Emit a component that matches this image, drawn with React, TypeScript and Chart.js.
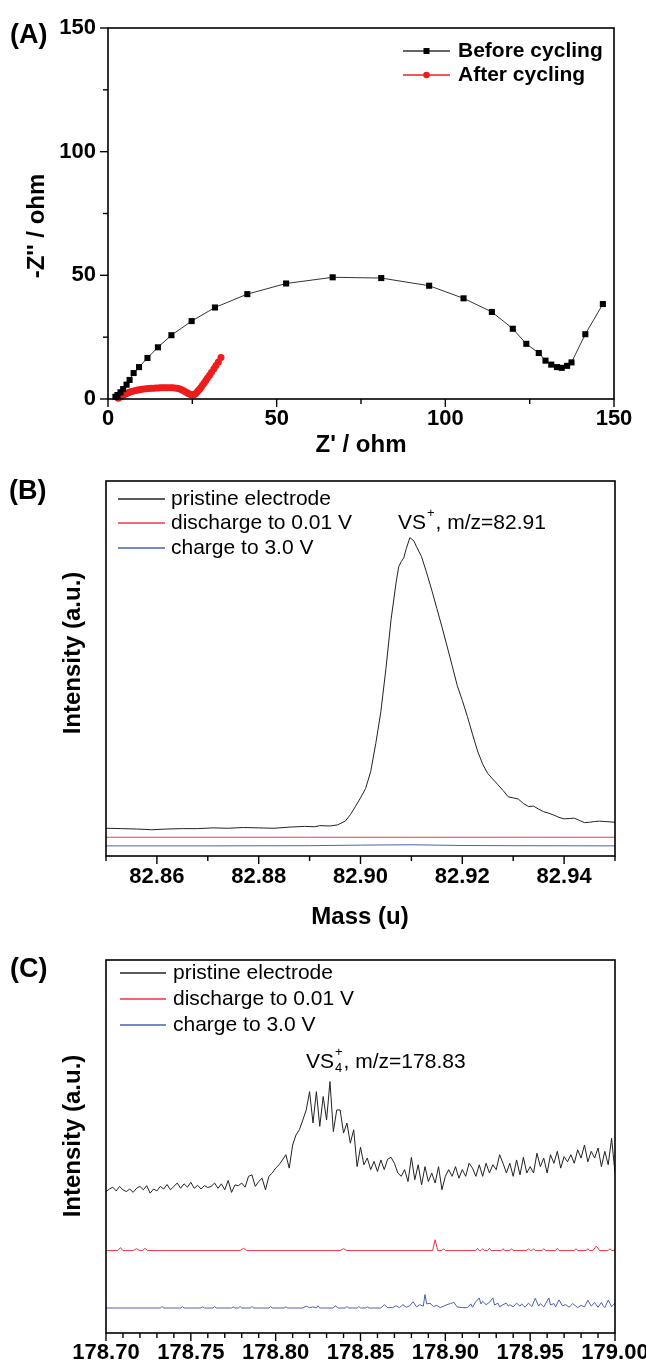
import React, { useEffect, useRef } from 'react';
import { Chart, registerables } from 'chart.js';

Chart.register(...registerables);

const FONT = "'Liberation Sans', Arial, Helvetica, sans-serif";

// ---------------- Panel A (Nyquist) ----------------
const aTickLabels = [0, 50, 100, 150];
const beforeX = [2.2, 2.8, 3.7, 4.5, 5.5, 6.4, 7.6, 9.2, 11.7, 14.8, 18.8, 24.8, 31.7, 41.3, 52.8, 66.6, 81.0, 95.2, 105.4, 113.8, 120.0, 124.0, 127.7, 129.7, 131.4, 133.1, 134.5, 136.1, 137.4, 141.5, 146.7];
const beforeY = [0.9, 1.6, 2.7, 4.0, 5.8, 7.7, 10.5, 12.9, 16.6, 20.9, 25.8, 31.5, 37.0, 42.4, 46.7, 49.2, 48.9, 45.8, 40.7, 35.2, 28.4, 22.3, 18.6, 15.5, 13.9, 12.9, 12.6, 13.4, 14.8, 26.2, 38.4];
const afterX = [3.0, 3.3, 3.7, 4.1, 4.5, 5.0, 5.5, 6.0, 6.5, 7.0, 7.6, 8.2, 8.8, 9.4, 10.0, 10.7, 11.4, 12.1, 12.8, 13.5, 14.2, 14.9, 15.6, 16.3, 17.0, 17.7, 18.4, 19.1, 19.8, 20.5, 21.1, 21.7, 22.3, 22.8, 23.3, 23.8, 24.3, 24.8, 25.2, 25.6, 26.0, 26.4, 26.8, 27.2, 27.6, 28.0, 28.5, 29.0, 29.5, 30.1, 30.7, 31.4, 32.0, 32.7, 33.5];
const afterY = [0.3, 0.6, 0.9, 1.2, 1.5, 1.9, 2.2, 2.5, 2.8, 3.0, 3.2, 3.4, 3.6, 3.7, 3.9, 4.0, 4.1, 4.2, 4.3, 4.3, 4.4, 4.4, 4.5, 4.5, 4.5, 4.5, 4.5, 4.5, 4.4, 4.3, 4.1, 3.8, 3.4, 3.0, 2.6, 2.2, 1.9, 1.7, 1.6, 1.8, 2.2, 2.8, 3.4, 4.0, 4.8, 5.6, 6.5, 7.5, 8.5, 9.6, 10.8, 12.2, 13.5, 15.0, 16.8];

// ---------------- Panel B (VS+) ----------------
const bTickLabels = ['82.86', '82.88', '82.90', '82.92', '82.94'];
const bMass = [82.850, 82.853, 82.856, 82.859, 82.862, 82.865, 82.868, 82.871, 82.874, 82.877, 82.880, 82.883, 82.886, 82.889, 82.891, 82.892, 82.894, 82.8955, 82.897, 82.898, 82.899, 82.900, 82.901, 82.902, 82.903, 82.904, 82.905, 82.906, 82.907, 82.9075, 82.908, 82.9085, 82.909, 82.9097, 82.9105, 82.911, 82.912, 82.913, 82.914, 82.915, 82.916, 82.917, 82.918, 82.919, 82.920, 82.921, 82.922, 82.923, 82.924, 82.925, 82.926, 82.927, 82.928, 82.929, 82.930, 82.931, 82.932, 82.933, 82.934, 82.935, 82.936, 82.937, 82.938, 82.939, 82.940, 82.941, 82.942, 82.943, 82.944, 82.945, 82.946, 82.947, 82.948, 82.950];
const bPristine = [7.4, 7.3, 7.2, 7.0, 7.2, 7.3, 7.3, 7.5, 7.4, 7.6, 7.5, 7.4, 7.7, 7.9, 7.8, 8.1, 8.0, 8.3, 9.3, 11.0, 13.2, 15.5, 18.0, 22.5, 30.0, 38.5, 50.0, 63.0, 73.0, 77.1, 78.5, 79.5, 82.0, 84.9, 84.0, 82.5, 79.8, 75.5, 70.9, 66.0, 61.1, 56.0, 50.8, 45.5, 41.5, 37.2, 32.5, 28.0, 24.5, 22.0, 20.5, 19.0, 17.5, 15.8, 15.5, 15.2, 14.0, 13.2, 13.3, 12.5, 11.8, 11.4, 10.9, 10.3, 9.9, 10.0, 10.1, 9.5, 8.9, 9.0, 9.2, 9.3, 9.2, 9.0];
const bDischargeMass = [82.850, 82.870, 82.890, 82.910, 82.930, 82.950];
const bDischarge = [5.0, 5.0, 5.0, 5.0, 5.0, 5.0];
const bChargeMass = [82.850, 82.870, 82.890, 82.900, 82.910, 82.915, 82.920, 82.930, 82.950];
const bCharge = [2.7, 2.7, 2.75, 2.9, 3.0, 2.9, 2.8, 2.75, 2.7];

// ---------------- Panel C (VS4+) ----------------
const cTickLabels = ['178.70', '178.75', '178.80', '178.85', '178.90', '178.95', '179.00'];
const cMass = [
  178.700, 178.702, 178.704, 178.706, 178.708, 178.710, 178.712, 178.714, 178.716, 178.718,
  178.720, 178.722, 178.724, 178.726, 178.728, 178.730, 178.732, 178.734, 178.736, 178.738,
  178.740, 178.742, 178.744, 178.746, 178.748, 178.750, 178.752, 178.754, 178.756, 178.758,
  178.760, 178.762, 178.764, 178.766, 178.768, 178.770, 178.772, 178.774, 178.776, 178.778,
  178.780, 178.782, 178.784, 178.786, 178.788, 178.790, 178.792, 178.794, 178.796, 178.798,
  178.800, 178.802, 178.804, 178.806, 178.808, 178.810, 178.812, 178.814, 178.816, 178.818,
  178.820, 178.822, 178.824, 178.826, 178.828, 178.830, 178.832, 178.834, 178.836, 178.838,
  178.840, 178.842, 178.844, 178.846, 178.848, 178.850, 178.852, 178.854, 178.856, 178.858,
  178.860, 178.862, 178.864, 178.866, 178.868, 178.870, 178.872, 178.874, 178.876, 178.878,
  178.880, 178.882, 178.884, 178.886, 178.888, 178.890, 178.892, 178.894, 178.896, 178.898,
  178.900, 178.902, 178.904, 178.906, 178.908, 178.910, 178.912, 178.914, 178.916, 178.918,
  178.920, 178.922, 178.924, 178.926, 178.928, 178.930, 178.932, 178.934, 178.936, 178.938,
  178.940, 178.942, 178.944, 178.946, 178.948, 178.950, 178.952, 178.954, 178.956, 178.958,
  178.960, 178.962, 178.964, 178.966, 178.968, 178.970, 178.972, 178.974, 178.976, 178.978,
  178.980, 178.982, 178.984, 178.986, 178.988, 178.990, 178.992, 178.994, 178.996, 178.998,
  179.000,
];
const cPristine = [
  37.9, 38.6, 39.1, 38.1, 39.3, 38.4, 37.9, 38.6, 37.7, 38.8,
  39.3, 38.4, 39.5, 37.5, 38.6, 38.1, 39.3, 38.6, 39.8, 38.4,
  39.3, 40.2, 38.8, 40.0, 39.1, 40.4, 38.8, 39.6, 38.6, 39.5,
  39.0, 39.3, 40.2, 38.8, 40.0, 38.4, 40.9, 37.7, 39.7, 39.5,
  40.2, 39.1, 42.0, 42.4, 39.3, 40.6, 41.5, 38.4, 42.0, 42.9,
  44.2, 45.1, 46.4, 47.8, 44.2, 50.4, 53.1, 54.5, 57.1, 59.8,
  64.7, 56.3, 64.7, 55.4, 63.4, 57.1, 67.4, 54.0, 59.8, 59.8,
  53.6, 56.3, 50.9, 54.5, 44.6, 49.8, 45.1, 46.9, 43.8, 46.0,
  43.3, 46.4, 43.8, 46.6, 47.1, 45.5, 42.9, 42.0, 43.8, 40.6,
  47.1, 41.1, 45.1, 39.7, 44.6, 40.6, 42.9, 40.2, 44.6, 38.4,
  42.0, 43.8, 42.0, 44.6, 41.5, 43.8, 42.0, 45.5, 44.2, 42.0,
  45.1, 42.0, 45.5, 42.9, 45.1, 43.8, 47.8, 45.5, 42.9, 45.5,
  42.0, 46.4, 42.4, 47.1, 42.9, 44.6, 42.9, 48.2, 44.6, 46.9,
  42.9, 47.8, 45.5, 48.7, 44.2, 47.3, 45.9, 47.8, 45.5, 49.1,
  46.9, 50.4, 45.9, 48.7, 46.9, 49.6, 44.6, 48.7, 45.1, 52.2,
  42.9,
];
const cDischargeMass = [178.700, 178.707, 178.7085, 178.710, 178.716, 178.718, 178.720, 178.7215, 178.723, 178.7245, 178.779, 178.781, 178.783, 178.838, 178.840, 178.842, 178.8925, 178.894, 178.8955, 178.898, 178.899, 178.900, 178.918, 178.919, 178.920, 178.921, 178.922, 178.923, 178.925, 178.926, 178.927, 178.933, 178.934, 178.935, 178.938, 178.939, 178.940, 178.948, 178.949, 178.950, 178.951, 178.952, 178.953, 178.957, 178.958, 178.959, 178.965, 178.966, 178.967, 178.976, 178.977, 178.978, 178.983, 178.984, 178.985, 178.987, 178.989, 178.991, 178.996, 178.997, 178.998, 179.000];
const cDischarge = [22.1, 22.1, 22.9, 22.1, 22.1, 22.6, 22.1, 22.1, 22.7, 22.1, 22.1, 22.7, 22.1, 22.1, 22.6, 22.1, 22.1, 25.0, 22.1, 22.1, 22.6, 22.1, 22.1, 22.7, 22.1, 22.1, 22.6, 22.1, 22.1, 22.7, 22.1, 22.1, 22.6, 22.1, 22.1, 22.6, 22.1, 22.1, 22.6, 22.1, 22.1, 22.6, 22.1, 22.1, 22.6, 22.1, 22.1, 22.7, 22.1, 22.1, 22.6, 22.1, 22.1, 22.6, 22.1, 22.1, 23.3, 22.1, 22.1, 22.6, 22.1, 22.1];
const cChargeMass = [178.700, 178.732, 178.733, 178.734, 178.744, 178.745, 178.746, 178.756, 178.757, 178.758, 178.763, 178.764, 178.765, 178.774, 178.775, 178.776, 178.778, 178.779, 178.780, 178.785, 178.786, 178.787, 178.796, 178.797, 178.798, 178.805, 178.806, 178.807, 178.816, 178.818, 178.820, 178.822, 178.824, 178.825, 178.826, 178.834, 178.835, 178.837, 178.841, 178.842, 178.843, 178.848, 178.849, 178.850, 178.853, 178.854, 178.855, 178.862, 178.864, 178.866, 178.869, 178.871, 178.873, 178.875, 178.877, 178.879, 178.881, 178.883, 178.885, 178.887, 178.888, 178.889, 178.891, 178.893, 178.895, 178.897, 178.899, 178.901, 178.903, 178.905, 178.907, 178.910, 178.913, 178.915, 178.916, 178.918, 178.920, 178.921, 178.922, 178.924, 178.926, 178.928, 178.929, 178.931, 178.932, 178.934, 178.936, 178.937, 178.938, 178.940, 178.942, 178.944, 178.945, 178.947, 178.949, 178.951, 178.953, 178.955, 178.956, 178.958, 178.961, 178.962, 178.964, 178.965, 178.967, 178.969, 178.971, 178.973, 178.975, 178.977, 178.978, 178.980, 178.982, 178.984, 178.986, 178.988, 178.990, 178.992, 178.993, 178.994, 178.996, 178.998, 179.000];
const cCharge = [6.7, 6.7, 7.1, 6.7, 6.7, 7.1, 6.7, 6.7, 7.0, 6.7, 6.7, 7.1, 6.7, 6.7, 7.0, 6.7, 6.7, 7.1, 6.7, 6.7, 7.1, 6.7, 6.7, 7.1, 6.7, 6.7, 7.0, 6.7, 6.7, 7.2, 6.8, 7.0, 6.7, 7.3, 6.7, 6.7, 7.3, 6.7, 6.7, 7.1, 6.7, 6.7, 7.1, 6.7, 6.7, 7.0, 6.7, 6.7, 7.6, 6.8, 6.8, 7.3, 6.8, 7.6, 6.9, 7.3, 8.4, 7.0, 7.6, 7.2, 10.3, 7.8, 8.0, 7.1, 7.4, 6.8, 7.2, 7.6, 7.9, 8.2, 7.0, 6.8, 6.8, 7.8, 6.9, 8.4, 9.4, 7.8, 8.5, 7.6, 8.2, 9.4, 7.5, 8.0, 7.0, 7.6, 8.0, 7.2, 7.6, 7.0, 8.0, 7.2, 7.8, 6.9, 8.0, 7.1, 9.3, 7.2, 7.9, 7.0, 9.4, 7.5, 7.9, 7.0, 8.9, 7.3, 7.6, 6.9, 7.9, 7.2, 6.8, 7.4, 7.0, 8.8, 7.2, 8.2, 6.9, 8.2, 7.3, 6.8, 8.8, 7.1, 8.0];

// ---------------- helpers ----------------
const pairs = (xs: number[], ys: number[]) => xs.map((x, i) => ({ x, y: ys[i] }));

type Seg = { t?: string; sup?: string; sub?: string };
type TextSpec =
  | { kind: 'plain'; text: string; x: number; y: number; font: string; rotate?: boolean; align?: CanvasTextAlign }
  | { kind: 'rich'; segs: Seg[]; x: number; y: number; size: number };
type LegendSpec = { x0: number; x1: number; tx: number; rows: number[]; font: string; markers?: boolean };
type DecorCfg = {
  xMajor: (v: number) => boolean;
  yMajor?: (v: number) => boolean;
  legend: LegendSpec;
  texts: TextSpec[];
};

function drawRich(ctx: CanvasRenderingContext2D, x: number, y: number, size: number, segs: Seg[]) {
  let cx = x;
  ctx.textAlign = 'left';
  ctx.textBaseline = 'middle';
  for (const s of segs) {
    if (s.t) {
      ctx.font = `${size}px ${FONT}`;
      ctx.fillText(s.t, cx, y);
      cx += ctx.measureText(s.t).width;
    } else {
      const small = Math.round(size * 0.6);
      ctx.font = `${small}px ${FONT}`;
      let w = 0;
      if (s.sup) {
        ctx.fillText(s.sup, cx + 1, y - size * 0.45);
        w = Math.max(w, ctx.measureText(s.sup).width);
      }
      if (s.sub) {
        ctx.fillText(s.sub, cx + 1, y + size * 0.32);
        w = Math.max(w, ctx.measureText(s.sub).width);
      }
      cx += w + 2;
    }
  }
}

const decor = (cfg: DecorCfg) => ({
  id: 'decor',
  afterDraw(chart: any) {
    const ctx: CanvasRenderingContext2D = chart.ctx;
    const a = chart.chartArea;
    ctx.save();
    ctx.strokeStyle = '#000';
    ctx.fillStyle = '#000';
    ctx.lineWidth = 1.6;
    ctx.strokeRect(a.left, a.top, a.right - a.left, a.bottom - a.top);
    ctx.lineWidth = 1.4;
    const xs = chart.scales.x;
    xs.ticks.forEach((t: any) => {
      const p = xs.getPixelForValue(t.value);
      const len = cfg.xMajor(t.value) ? 8 : 5;
      ctx.beginPath();
      ctx.moveTo(p, a.bottom);
      ctx.lineTo(p, a.bottom + len);
      ctx.stroke();
    });
    if (cfg.yMajor) {
      const ys = chart.scales.y;
      ys.ticks.forEach((t: any) => {
        const p = ys.getPixelForValue(t.value);
        const len = cfg.yMajor!(t.value) ? 8 : 5;
        ctx.beginPath();
        ctx.moveTo(a.left, p);
        ctx.lineTo(a.left - len, p);
        ctx.stroke();
      });
    }
    // legend
    const L = cfg.legend;
    chart.data.datasets.forEach((ds: any, i: number) => {
      const yy = L.rows[i];
      ctx.strokeStyle = ds.borderColor;
      ctx.lineWidth = 1.5;
      ctx.beginPath();
      ctx.moveTo(L.x0, yy);
      ctx.lineTo(L.x1, yy);
      ctx.stroke();
      if (L.markers) {
        const mx = (L.x0 + L.x1) / 2;
        ctx.fillStyle = ds.pointBackgroundColor;
        if (ds.pointStyle === 'rect') {
          ctx.fillRect(mx - 3, yy - 3, 6, 6);
        } else {
          ctx.beginPath();
          ctx.arc(mx, yy, 3.3, 0, Math.PI * 2);
          ctx.fill();
        }
      }
      ctx.fillStyle = '#000';
      ctx.font = L.font;
      ctx.textAlign = 'left';
      ctx.textBaseline = 'middle';
      ctx.fillText(ds.label, L.tx, yy);
    });
    // texts
    ctx.fillStyle = '#000';
    for (const t of cfg.texts) {
      if (t.kind === 'plain') {
        ctx.font = t.font;
        ctx.textAlign = t.align || 'center';
        ctx.textBaseline = 'middle';
        if (t.rotate) {
          ctx.save();
          ctx.translate(t.x, t.y);
          ctx.rotate(-Math.PI / 2);
          ctx.fillText(t.text, 0, 0);
          ctx.restore();
        } else {
          ctx.fillText(t.text, t.x, t.y);
        }
      } else {
        drawRich(ctx, t.x, t.y, t.size, t.segs);
      }
    }
    ctx.restore();
  },
});

const tickFont = { family: FONT, size: 22, weight: 'bold' as const };
const common = {
  animation: false as const,
  responsive: false,
  events: [] as any[],
  plugins: { legend: { display: false }, tooltip: { enabled: false } },
};
const noGrid = { display: false, drawTicks: false };
const fixX = (h: number) => (s: any) => {
  s.height = h;
  s.paddingLeft = 0;
  s.paddingRight = 0;
};

function buildA(): any {
  return {
    type: 'line',
    data: {
      datasets: [
        { label: 'Before cycling', data: pairs(beforeX, beforeY), borderColor: '#333', borderWidth: 1, pointStyle: 'rect', pointRadius: 4.3, pointBackgroundColor: '#000', pointBorderWidth: 0, tension: 0, clip: false },
        { label: 'After cycling', data: pairs(afterX, afterY), borderColor: '#e82020', borderWidth: 1, pointStyle: 'circle', pointRadius: 3.5, pointBackgroundColor: '#ee1c1c', pointBorderWidth: 0, tension: 0, clip: false },
      ],
    },
    options: {
      ...common,
      layout: { padding: { top: 28, right: 32, bottom: 0, left: 0 } },
      scales: {
        x: {
          type: 'linear', min: 0, max: 150, grid: noGrid, border: { display: false },
          ticks: { stepSize: 25, autoSkip: false, maxRotation: 0, padding: 7, font: tickFont, color: '#000', callback: (v: number) => (aTickLabels.includes(v) ? String(v) : '') },
          afterFit: fixX(61),
        },
        y: {
          type: 'linear', min: 0, max: 150, grid: noGrid, border: { display: false },
          ticks: { stepSize: 25, autoSkip: false, padding: 12, font: tickFont, color: '#000', callback: (v: number) => (aTickLabels.includes(v) ? String(v) : '') },
          afterFit: (s: any) => { s.width = 108; s.paddingTop = 0; s.paddingBottom = 0; },
        },
      },
    },
    plugins: [
      decor({
        xMajor: (v) => v % 50 === 0,
        yMajor: (v) => v % 50 === 0,
        legend: { x0: 403, x1: 450, tx: 458, rows: [51, 75], font: `bold 21px ${FONT}`, markers: true },
        texts: [
          { kind: 'plain', text: '(A)', x: 10, y: 36, font: `bold 27px ${FONT}`, align: 'left' },
          { kind: 'plain', text: "-Z'' / ohm", x: 37, y: 226, font: `bold 24px ${FONT}`, rotate: true },
          { kind: 'plain', text: "Z' / ohm", x: 361, y: 445, font: `bold 24px ${FONT}` },
        ],
      }),
    ],
  };
}

function buildB(): any {
  return {
    type: 'line',
    data: {
      datasets: [
        { label: 'pristine electrode', data: pairs(bMass, bPristine), borderColor: '#222', borderWidth: 1, pointRadius: 0, tension: 0 },
        { label: 'discharge to 0.01 V', data: pairs(bDischargeMass, bDischarge), borderColor: '#f03a4c', borderWidth: 1, pointRadius: 0, tension: 0 },
        { label: 'charge to 3.0 V', data: pairs(bChargeMass, bCharge), borderColor: '#4a62b0', borderWidth: 1, pointRadius: 0, tension: 0 },
      ],
    },
    options: {
      ...common,
      layout: { padding: { top: 21, right: 31, bottom: 0, left: 106 } },
      scales: {
        x: {
          type: 'linear', min: 82.85, max: 82.95, grid: noGrid, border: { display: false },
          ticks: { stepSize: 0.01, autoSkip: false, maxRotation: 0, padding: 8, font: tickFont, color: '#000', callback: (v: number) => { const s = v.toFixed(2); return bTickLabels.includes(s) ? s : ''; } },
          afterFit: fixX(79),
        },
        y: { type: 'linear', min: 0, max: 100, display: false },
      },
    },
    plugins: [
      decor({
        xMajor: (v) => Math.round(v * 100) % 2 === 0,
        legend: { x0: 118, x1: 165, tx: 171, rows: [39, 63, 88], font: `21px ${FONT}` },
        texts: [
          { kind: 'plain', text: '(B)', x: 9, y: 32, font: `bold 27px ${FONT}`, align: 'left' },
          { kind: 'plain', text: 'Intensity (a.u.)', x: 73, y: 193, font: `bold 24px ${FONT}`, rotate: true },
          { kind: 'plain', text: 'Mass (u)', x: 360, y: 457, font: `bold 24px ${FONT}` },
          { kind: 'rich', x: 398, y: 63, size: 21, segs: [{ t: 'VS' }, { sup: '+' }, { t: ', m/z=82.91' }] },
        ],
      }),
    ],
  };
}

function buildC(): any {
  return {
    type: 'line',
    data: {
      datasets: [
        { label: 'pristine electrode', data: pairs(cMass, cPristine), borderColor: '#222', borderWidth: 1, pointRadius: 0, tension: 0 },
        { label: 'discharge to 0.01 V', data: pairs(cDischargeMass, cDischarge), borderColor: '#ee3344', borderWidth: 1, pointRadius: 0, tension: 0 },
        { label: 'charge to 3.0 V', data: pairs(cChargeMass, cCharge), borderColor: '#4a62b0', borderWidth: 1, pointRadius: 0, tension: 0 },
      ],
    },
    options: {
      ...common,
      layout: { padding: { top: 25, right: 31, bottom: 0, left: 106 } },
      scales: {
        x: {
          type: 'linear', min: 178.7, max: 179.0, grid: noGrid, border: { display: false },
          ticks: { stepSize: 0.01, autoSkip: false, maxRotation: 0, padding: 7, font: tickFont, color: '#000', callback: (v: number) => { const s = v.toFixed(2); return cTickLabels.includes(s) ? s : ''; } },
          afterFit: fixX(33),
        },
        y: { type: 'linear', min: 0, max: 100, display: false },
      },
    },
    plugins: [
      decor({
        xMajor: (v) => Math.round(v * 100) % 5 === 0,
        legend: { x0: 120, x1: 166, tx: 173, rows: [38, 64, 90], font: `21px ${FONT}` },
        texts: [
          { kind: 'plain', text: '(C)', x: 10, y: 35, font: `bold 27px ${FONT}`, align: 'left' },
          { kind: 'plain', text: 'Intensity (a.u.)', x: 73, y: 201, font: `bold 24px ${FONT}`, rotate: true },
          { kind: 'rich', x: 306, y: 127, size: 21, segs: [{ t: 'VS' }, { sub: '4', sup: '+' }, { t: ', m/z=178.83' }] },
        ],
      }),
    ],
  };
}

function ChartCanvas({ top, height, build }: { top: number; height: number; build: () => any }) {
  const ref = useRef<HTMLCanvasElement | null>(null);
  useEffect(() => {
    if (!ref.current) return;
    const chart = new Chart(ref.current, build());
    return () => chart.destroy();
  }, []);
  return (
    <canvas
      ref={ref}
      width={646}
      height={height}
      style={{ position: 'absolute', left: 0, top, width: 646, height }}
    />
  );
}

export default function App() {
  return (
    <div style={{ position: 'relative', width: 646, height: 1366, background: '#fff', overflow: 'hidden' }}>
      <style>{'body{margin:0;background:#fff;}'}</style>
      <ChartCanvas top={0} height={460} build={buildA} />
      <ChartCanvas top={460} height={475} build={buildB} />
      <ChartCanvas top={935} height={431} build={buildC} />
    </div>
  );
}
